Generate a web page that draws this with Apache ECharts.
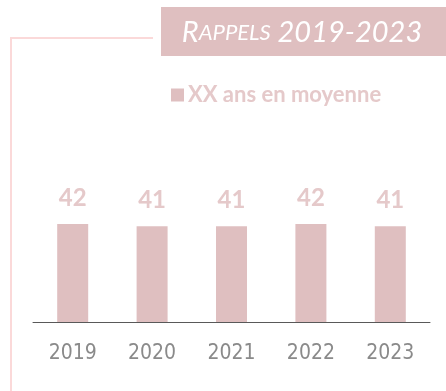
<!DOCTYPE html>
<html>
<head>
<meta charset="utf-8">
<script src="https://cdn.jsdelivr.net/npm/echarts@6/dist/echarts.min.js"></script>
<style>
  html, body { margin: 0; padding: 0; background: #ffffff; }
  #chart { width: 446px; height: 391px; }
</style>
</head>
<body>
<div id="chart"></div>
<script>
// Average age per year
const years = ['2019', '2020', '2021', '2022', '2023'];
const averages = [42, 41, 41, 42, 41];
const seriesName = 'XX ans en moyenne';

const barColor = '#dfbfc0';
const labelColor = '#e5c9ca';
const frameColor = '#fbd9d9';

const chart = echarts.init(document.getElementById('chart'), null, { renderer: 'canvas' });

chart.setOption({
  animation: false,
  backgroundColor: '#ffffff',
  grid: { left: 33, right: 16, top: 182, bottom: 69, containLabel: false },
  legend: {
    data: [seriesName],
    left: 166,
    top: 79,
    icon: 'rect',
    itemWidth: 13,
    itemHeight: 13,
    itemGap: 4,
    textStyle: {
      color: labelColor,
      fontFamily: 'Lato',
      fontWeight: 'bold',
      fontSize: 22,
      padding: [0, 0, 0, -1]
    }
  },
  xAxis: {
    type: 'category',
    data: years,
    axisLine: { show: true, lineStyle: { color: '#595959', width: 1 } },
    axisTick: { show: false },
    axisLabel: {
      color: '#8a8a8a',
      fontFamily: 'DejaVu Sans Condensed, Liberation Sans, sans-serif',
      fontSize: 21,
      margin: 21
    }
  },
  yAxis: {
    type: 'value',
    min: 0,
    max: 60,
    show: false,
    splitLine: { show: false }
  },
  series: [{
    name: seriesName,
    type: 'bar',
    data: averages,
    barWidth: 31,
    itemStyle: { color: barColor },
    label: {
      show: true,
      position: 'top',
      distance: 14,
      color: labelColor,
      fontFamily: 'Lato',
      fontWeight: 'bold',
      fontSize: 24
    }
  }],
  graphic: [
    // Frame lines on the left
    {
      type: 'polyline',
      shape: { points: [[153, 38], [11, 38], [11, 391]] },
      style: { stroke: frameColor, lineWidth: 2, fill: null },
      silent: true
    },
    // Title banner
    {
      type: 'rect',
      shape: { x: 161, y: 7, width: 285, height: 49 },
      style: { fill: barColor },
      silent: true
    },
    {
      type: 'text',
      x: 302,
      y: 33,
      style: {
        text: '{big|R}{small|APPELS}{big| 2019-2023}',
        align: 'center',
        verticalAlign: 'middle',
        rich: {
          big: { fontFamily: 'Lato', fontStyle: 'italic', fontSize: 29, fill: '#ffffff' },
          small: { fontFamily: 'Lato', fontStyle: 'italic', fontSize: 22, fill: '#ffffff' }
        }
      },
      silent: true
    }
  ]
});
</script>
</body>
</html>
